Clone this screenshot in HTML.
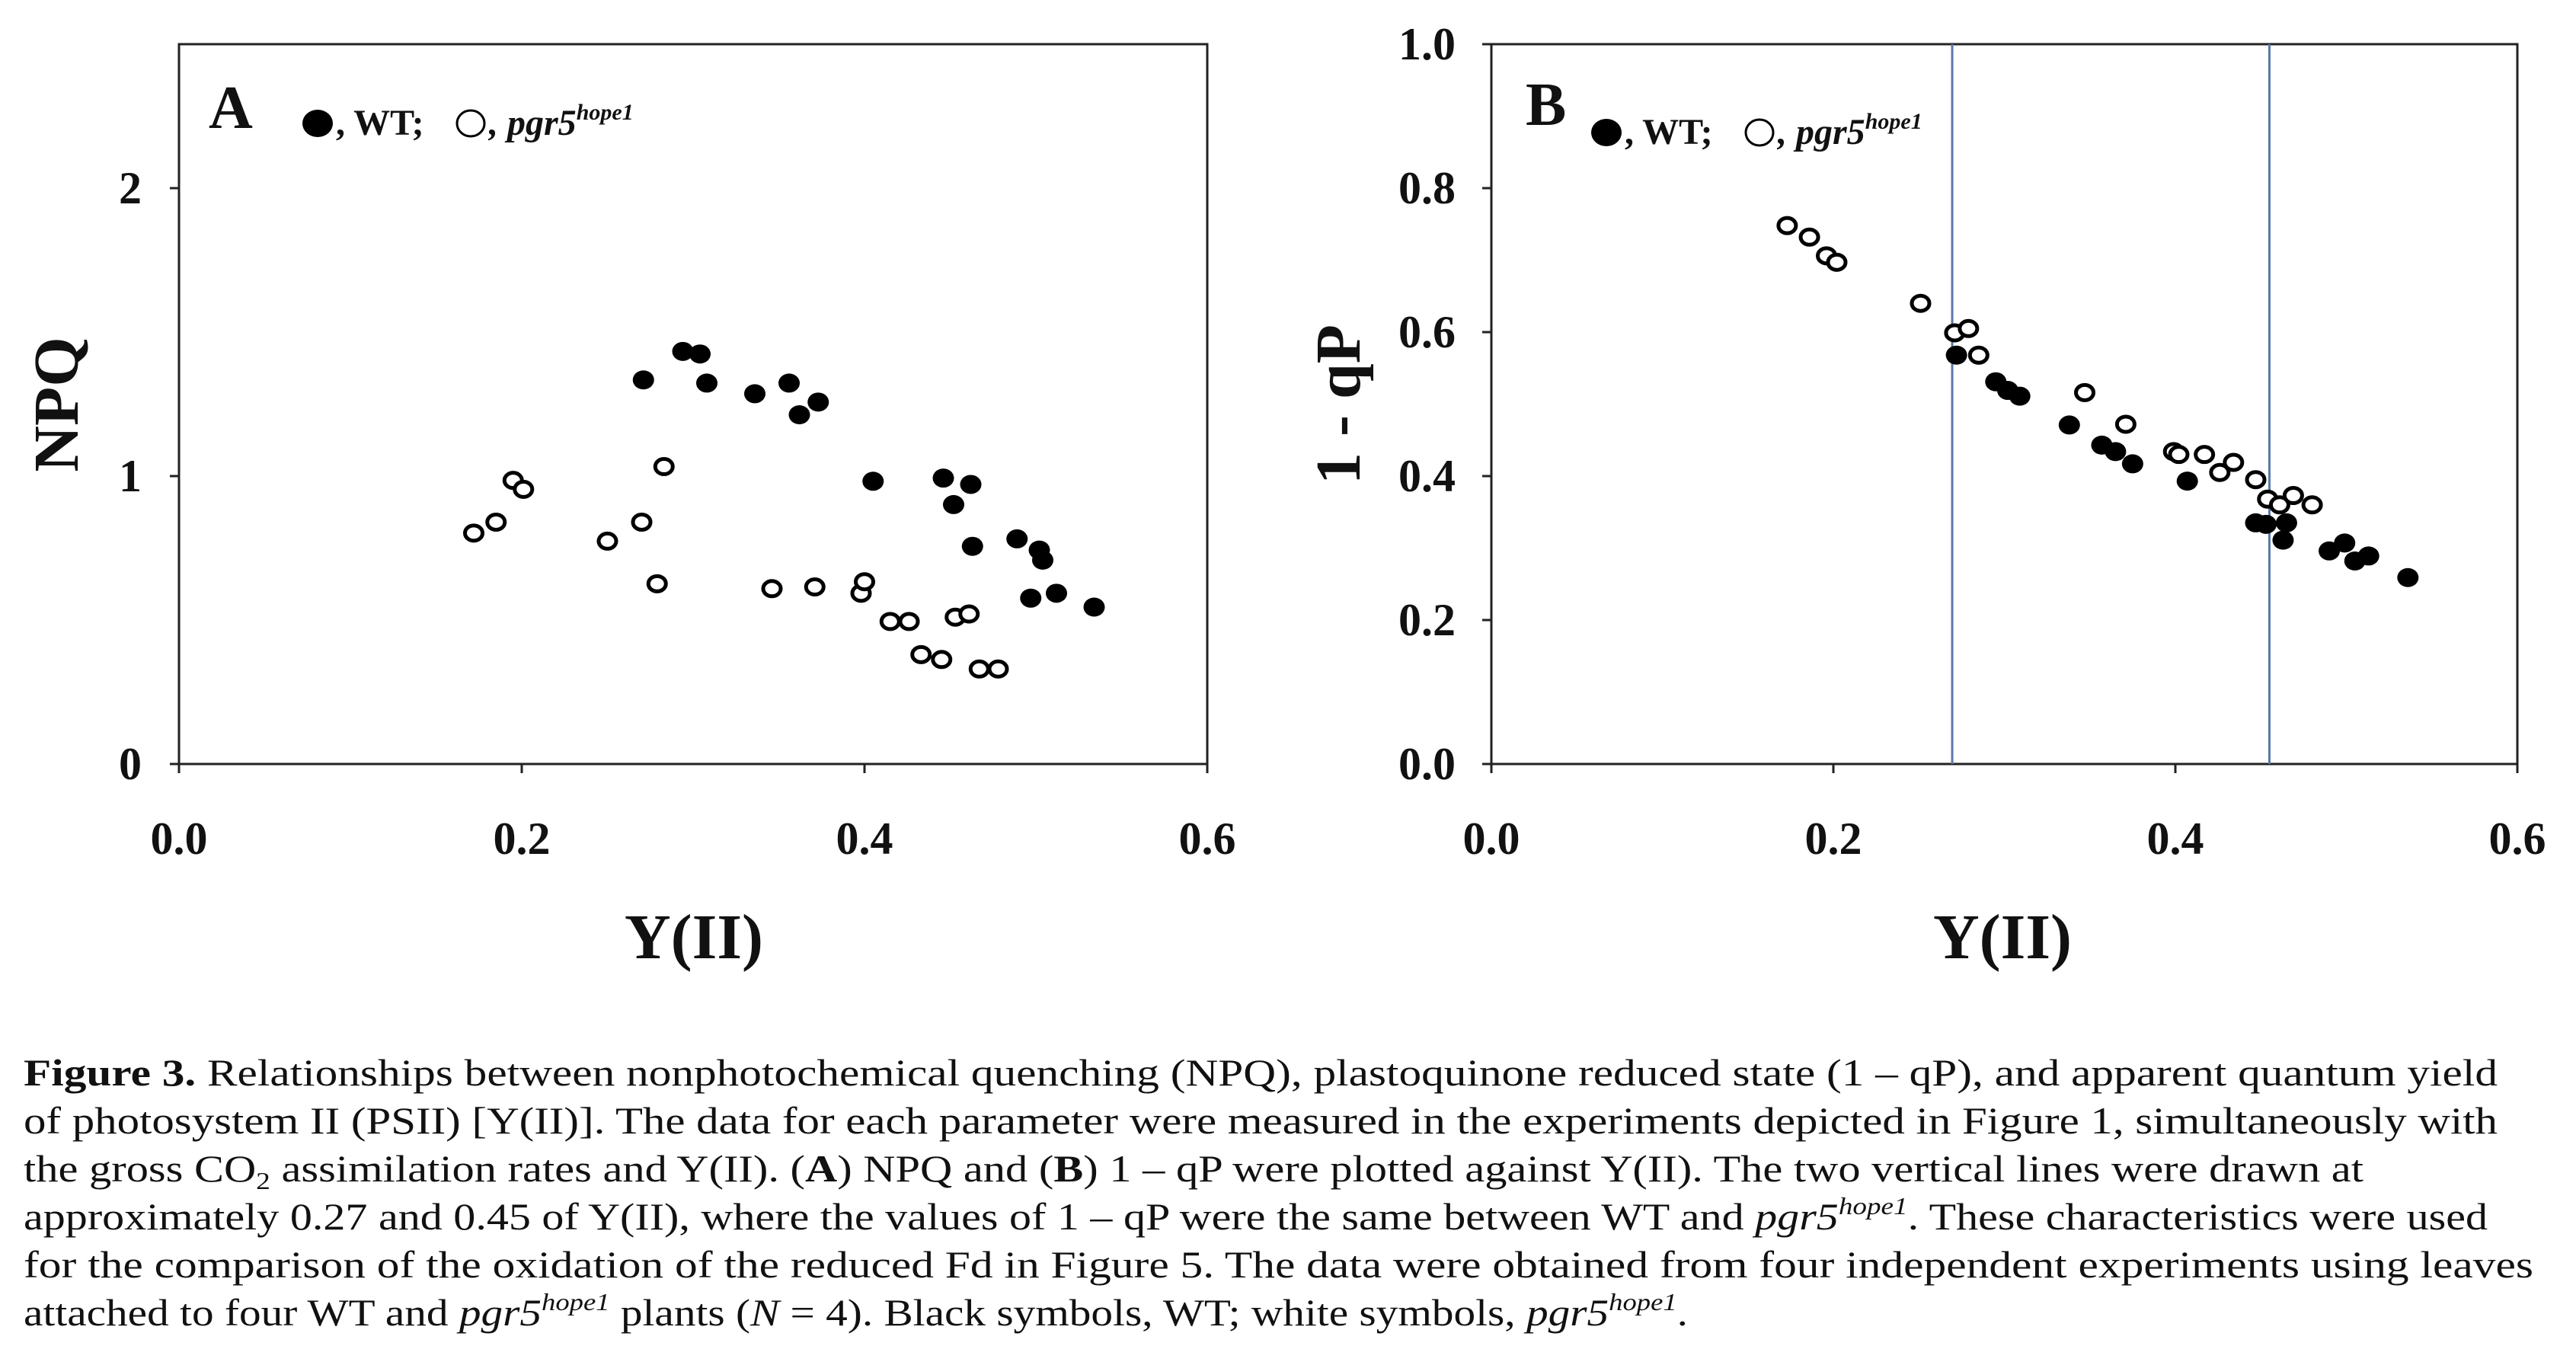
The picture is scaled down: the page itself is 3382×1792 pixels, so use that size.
<!DOCTYPE html>
<html><head><meta charset="utf-8"><style>
html,body{margin:0;padding:0;background:#fff;}
svg{display:block;}
</style></head><body>
<svg id="fig" width="3382" height="1792" viewBox="0 0 3382 1792" xmlns="http://www.w3.org/2000/svg" font-family="'Liberation Serif', serif">
<rect width="3382" height="1792" fill="#fff"/>
<g id="panelA"></g>
<g id="panelB"></g>
<g font-size="50" fill="#111">
<text x="31" y="1425" textLength="3248" lengthAdjust="spacingAndGlyphs"><tspan font-weight="bold">Figure 3.</tspan> Relationships between nonphotochemical quenching (NPQ), plastoquinone reduced state (1 – qP), and apparent quantum yield</text>
<text x="31" y="1488" textLength="3248" lengthAdjust="spacingAndGlyphs">of photosystem II (PSII) [Y(II)]. The data for each parameter were measured in the experiments depicted in Figure 1, simultaneously with</text>
<text x="31" y="1551" textLength="3072" lengthAdjust="spacingAndGlyphs">the gross CO<tspan font-size="32" dy="10">2</tspan><tspan dy="-10"> assimilation rates and Y(II). (</tspan><tspan font-weight="bold">A</tspan>) NPQ and (<tspan font-weight="bold">B</tspan>) 1 – qP were plotted against Y(II). The two vertical lines were drawn at</text>
<text x="31" y="1614" textLength="3235" lengthAdjust="spacingAndGlyphs">approximately 0.27 and 0.45 of Y(II), where the values of 1 – qP were the same between WT and <tspan font-style="italic">pgr5</tspan><tspan font-style="italic" font-size="32" dy="-20">hope1</tspan><tspan dy="20">. These characteristics were used</tspan></text>
<text x="31" y="1677" textLength="3295" lengthAdjust="spacingAndGlyphs">for the comparison of the oxidation of the reduced Fd in Figure 5. The data were obtained from four independent experiments using leaves</text>
<text x="31" y="1740" textLength="2185" lengthAdjust="spacingAndGlyphs">attached to four WT and <tspan font-style="italic">pgr5</tspan><tspan font-style="italic" font-size="32" dy="-20">hope1</tspan><tspan dy="20"> plants (</tspan><tspan font-style="italic">N</tspan> = 4). Black symbols, WT; white symbols, <tspan font-style="italic">pgr5</tspan><tspan font-style="italic" font-size="32" dy="-20">hope1</tspan><tspan dy="20">.</tspan></text>
</g>
</svg>
<script>
// ---- data ----
const xTicks = [0.0, 0.2, 0.4, 0.6];
const xTickLabels = ["0.0", "0.2", "0.4", "0.6"];
const aYTicks = [0, 1, 2];
const aYTickLabels = ["0", "1", "2"];
const bYTicks = [0, 0.2, 0.4, 0.6, 0.8, 1.0];
const bYTickLabels = ["0.0", "0.2", "0.4", "0.6", "0.8", "1.0"];
const refLines = [0.2695, 0.455];

const aWtX = [0.271,0.294,0.304,0.308,0.336,0.356,0.362,0.373,0.405,0.446,0.452,0.462,0.463,0.489,0.502,0.504,0.497,0.512,0.534];
const aWtY = [1.334,1.433,1.424,1.323,1.286,1.323,1.213,1.257,0.982,0.993,0.901,0.971,0.756,0.782,0.743,0.708,0.576,0.593,0.545];
const aMutX = [0.172,0.185,0.195,0.201,0.250,0.270,0.279,0.283,0.346,0.371,0.398,0.400,0.415,0.426,0.433,0.445,0.453,0.461,0.467,0.478];
const aMutY = [0.802,0.840,0.985,0.954,0.774,0.840,0.626,1.033,0.609,0.615,0.593,0.633,0.495,0.495,0.380,0.363,0.510,0.521,0.330,0.330];

const bWtX = [0.272,0.295,0.302,0.309,0.338,0.357,0.365,0.375,0.407,0.447,0.453,0.463,0.465,0.490,0.499,0.505,0.513,0.536];
const bWtY = [0.568,0.531,0.519,0.511,0.471,0.443,0.434,0.417,0.393,0.335,0.333,0.311,0.335,0.296,0.307,0.282,0.289,0.259];
const bMutX = [0.173,0.186,0.196,0.202,0.251,0.271,0.279,0.285,0.347,0.371,0.399,0.402,0.417,0.426,0.434,0.447,0.454,0.461,0.469,0.480];
const bMutY = [0.748,0.732,0.706,0.697,0.640,0.599,0.605,0.568,0.516,0.472,0.434,0.430,0.430,0.405,0.419,0.395,0.368,0.360,0.373,0.360];

const NS = "http://www.w3.org/2000/svg";
function mk(tag, attrs, parent) {
  const e = document.createElementNS(NS, tag);
  for (const k in attrs) e.setAttribute(k, attrs[k]);
  parent.appendChild(e);
  return e;
}

function drawPanel(g, cfg) {
  const {L, R, T, B, xmax, ymax, yTicks, yLabels, yLabelRight, wtX, wtY, mutX, mutY, lines} = cfg;
  const sx = v => L + (v / xmax) * (R - L);
  const sy = v => B - (v / ymax) * (B - T);
  const frame = mk('rect', {x: L, y: T, width: R - L, height: B - T, fill: 'none', stroke: '#222', 'stroke-width': 3}, g);
  
  
  if (lines) lines.forEach(v => {
    const ln = mk('line', {x1: sx(v), x2: sx(v), y1: T, y2: B, stroke: '#5a78a8', 'stroke-width': 3}, g);
    
    
  });
  xTicks.forEach((v, i) => {
    const t = mk('line', {x1: sx(v), x2: sx(v), y1: B, y2: B + 12, stroke: '#222', 'stroke-width': 3}, g);
    
    
    const tx = mk('text', {x: sx(v), y: 1121, 'text-anchor': 'middle', 'font-size': 60, 'font-weight': 'bold', fill: '#111'}, g);
    tx.textContent = xTickLabels[i];
    
    
  });
  yTicks.forEach((v, i) => {
    const t = mk('line', {x1: L - 12, x2: L, y1: sy(v), y2: sy(v), stroke: '#222', 'stroke-width': 3}, g);
    
    
    const tx = mk('text', {x: yLabelRight, y: sy(v) + 20, 'text-anchor': 'end', 'font-size': 60, 'font-weight': 'bold', fill: '#111'}, g);
    tx.textContent = yLabels[i];
    
    
  });
  wtX.forEach((v, i) => {
    const c = mk('ellipse', {cx: sx(v), cy: sy(wtY[i]), rx: 14, ry: 12.5, fill: '#000'}, g);
    
    
  });
  mutX.forEach((v, i) => {
    const c = mk('ellipse', {cx: sx(v), cy: sy(mutY[i]), rx: 11.5, ry: 10, fill: '#fff', stroke: '#000', 'stroke-width': 5}, g);
    
    
  });
}

function legend(g, letter, lx, ly, cx1, cy, tx1, cx2, tx2) {
  const a = mk('text', {x: lx, y: ly, 'font-size': 80, 'font-weight': 'bold', fill: '#111'}, g);
  a.textContent = letter;
  
  
  const c1 = mk('ellipse', {cx: cx1, cy: cy, rx: 20, ry: 18, fill: '#000'}, g);
  
  
  const t1 = mk('text', {x: tx1, y: cy + 15, 'font-size': 48, 'font-weight': 'bold', fill: '#111'}, g);
  t1.textContent = ', WT;';
  
  
  const c2 = mk('ellipse', {cx: cx2, cy: cy, rx: 18, ry: 17, fill: '#fff', stroke: '#000', 'stroke-width': 3}, g);
  
  
  const t2 = mk('text', {x: tx2, y: cy + 15, 'font-size': 48, 'font-weight': 'bold', 'font-style': 'italic', fill: '#111'}, g);
  
  
  const s1 = mk('tspan', {}, t2); s1.textContent = ', pgr5';
  const s2 = mk('tspan', {'font-size': 30, dy: -20}, t2); s2.textContent = 'hope1';
}

function axisTitles(g, xcx, ycx, ytext) {
  const xt = mk('text', {x: xcx, y: 1258, 'text-anchor': 'middle', 'font-size': 84, 'font-weight': 'bold', fill: '#111'}, g);
  xt.textContent = 'Y(II)';
  
  
  const yt = mk('text', {x: 0, y: 0, 'text-anchor': 'middle', 'font-size': 84, 'font-weight': 'bold', fill: '#111', transform: `translate(${ycx + 28},531) rotate(-90)`}, g);
  yt.textContent = ytext;
  
  
}

const gA = document.getElementById('panelA');
drawPanel(gA, {L: 235, R: 1585, T: 58, B: 1003, xmax: 0.6, ymax: 2.5, yTicks: aYTicks, yLabels: aYTickLabels, yLabelRight: 186, wtX: aWtX, wtY: aWtY, mutX: aMutX, mutY: aMutY, lines: null});
legend(gA, 'A', 274, 168, 417, 162, 441, 618, 642);
axisTitles(gA, 911, 74, 'NPQ');

const gB = document.getElementById('panelB');
drawPanel(gB, {L: 1958, R: 3305, T: 58, B: 1003, xmax: 0.6, ymax: 1.0, yTicks: bYTicks, yLabels: bYTickLabels, yLabelRight: 1911, wtX: bWtX, wtY: bWtY, mutX: bMutX, mutY: bMutY, lines: refLines});
legend(gB, 'B', 2003, 164, 2109, 174, 2133, 2310, 2334);
axisTitles(gB, 2629, 1757, '1 - qP');
</script>
</body></html>
